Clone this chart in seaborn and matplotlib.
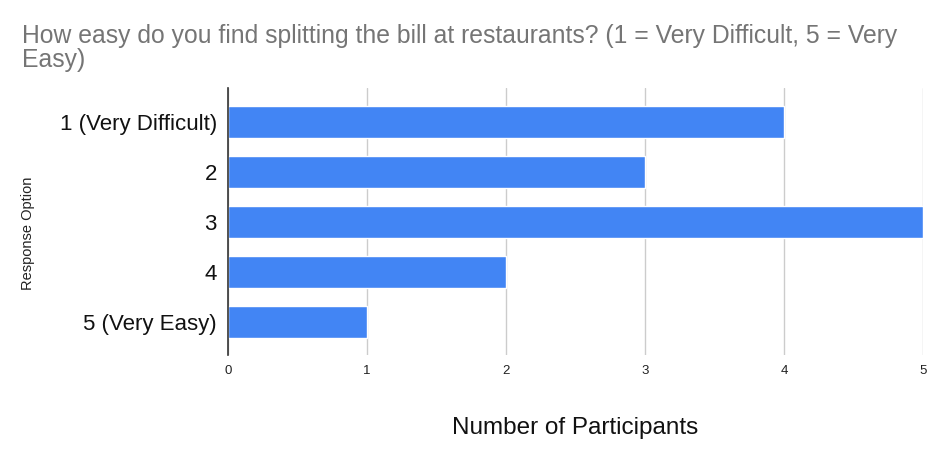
import matplotlib.pyplot as plt
import pandas as pd
import seaborn as sns

options = ["1 (Very Difficult)", "2", "3", "4", "5 (Very Easy)"]
counts = [4, 3, 5, 2, 1]
x_ticks = [0, 1, 2, 3, 4, 5]

df = pd.DataFrame({"option": options, "count": counts})

sns.set_theme(style="white")
plt.rcParams["font.family"] = ["Liberation Sans", "DejaVu Sans"]

fig = plt.figure(figsize=(9.42, 4.55), dpi=100)
ax = fig.add_axes([228 / 942, 1 - 355 / 455, (923 - 228) / 942, (355 - 88) / 455])

sns.barplot(data=df, x="count", y="option", color="#4285F4", saturation=1,
            width=0.64, ax=ax, zorder=3)

ax.set_xlim(0, 5)
ax.set_ylim(4.66, -0.68)
ax.set_xticks(x_ticks)
ax.set_xticklabels([str(t) for t in x_ticks], fontsize=9.5, color="#222222")
ax.tick_params(axis="y", labelsize=16, colors="#111111", length=0, pad=8)
ax.tick_params(axis="x", length=0, pad=7)
ax.grid(axis="x", color="#cccccc", linewidth=1, zorder=0)
for s in ["top", "right", "bottom"]:
    ax.spines[s].set_visible(False)
ax.spines["left"].set_color("#333333")
ax.spines["left"].set_linewidth(1.2)
ax.spines["left"].set_zorder(4)

ax.set_xlabel("")
ax.set_ylabel("")
fig.text(575 / 942, 1 - 428 / 455, "Number of Participants", ha="center", va="center",
         fontsize=17.5, color="#111111")
fig.text(28 / 942, 1 - 233 / 455, "Response Option", ha="center", va="center",
         rotation=90, fontsize=10.5, color="#222222")
fig.text(22 / 942, 1 - 24 / 455,
         "How easy do you find splitting the bill at restaurants? (1 = Very Difficult, 5 = Very\nEasy)",
         ha="left", va="top", fontsize=17.8, color="#757575", linespacing=1.0)

fig.savefig("out.png", dpi=100)
